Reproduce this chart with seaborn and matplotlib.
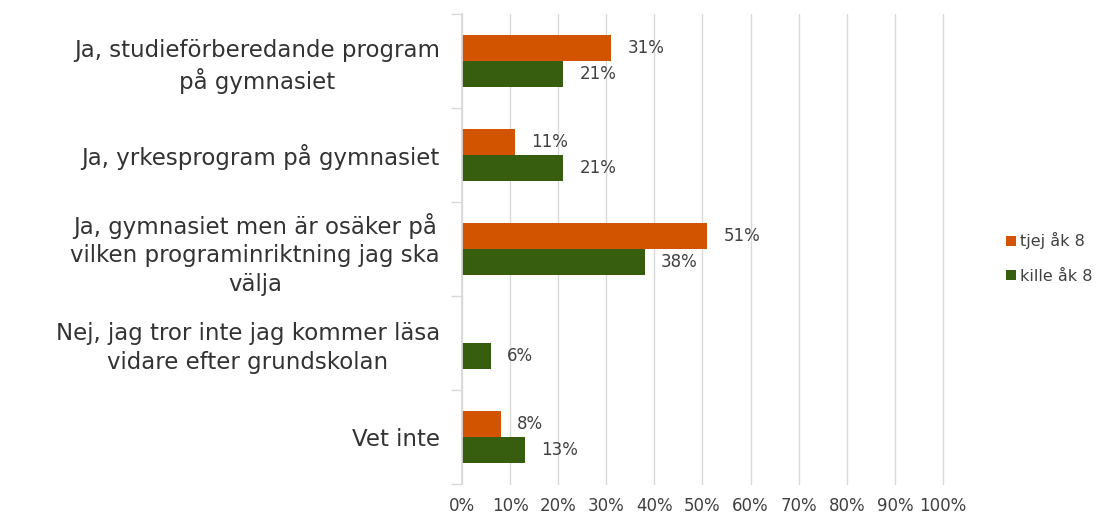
import numpy as np
import pandas as pd
import matplotlib
matplotlib.use("Agg")
import matplotlib.pyplot as plt
from matplotlib.patches import Patch
import seaborn as sns

categories = [
    "Ja, studieförberedande program\npå gymnasiet",
    "Ja, yrkesprogram på gymnasiet",
    "Ja, gymnasiet men är osäker på\nvilken programinriktning jag ska\nvälja",
    "Nej, jag tror inte jag kommer läsa\nvidare efter grundskolan",
    "Vet inte",
]
series_names = ["tjej åk 8", "kille åk 8"]
tjej_values = [31, 11, 51, np.nan, 8]
kille_values = [21, 21, 38, 6, 13]
x_ticks = [0, 10, 20, 30, 40, 50, 60, 70, 80, 90, 100]
x_tick_labels = [f"{v}%" for v in x_ticks]
colors = ["#D35400", "#375E0F"]

df = pd.DataFrame({
    "kategori": categories * 2,
    "grupp": [series_names[0]] * len(categories) + [series_names[1]] * len(categories),
    "andel": tjej_values + kille_values,
})

sns.set_theme(style="white")
plt.rcParams["font.family"] = ["DejaVu Sans"]

fig = plt.figure(figsize=(11.08, 5.16), dpi=100)
ax = fig.add_axes([0.417, 0.062, 0.434, 0.911])

sns.barplot(
    data=df.dropna(), y="kategori", x="andel", hue="grupp",
    order=categories, hue_order=series_names, palette=colors,
    orient="h", width=0.56, saturation=1, linewidth=0, ax=ax, legend=False,
)

# value labels to the right of each bar
for container in ax.containers:
    for bar in container:
        w = bar.get_width()
        if np.isnan(w) or w == 0:
            continue
        ax.text(w + 3.4, bar.get_y() + bar.get_height() / 2, f"{w:.0f}%",
                va="center", ha="left", fontsize=12, color="#404040")

ax.set_xlim(0, 100)
ax.set_ylim(len(categories) - 0.5, -0.5)
ax.set_xticks(x_ticks)
ax.set_xticklabels(x_tick_labels, fontsize=12, color="#404040")
ax.set_xlabel("")
ax.set_ylabel("")
ax.tick_params(axis="y", labelsize=16.5, labelcolor="#333333", length=0, pad=16)
ax.tick_params(axis="x", length=0, pad=9)
for lbl in ax.get_yticklabels():
    lbl.set_multialignment("center")
    lbl.set_linespacing(1.3)

# category boundary ticks on the left
ax.set_yticks(np.arange(-0.5, len(categories), 1.0), minor=True)
ax.tick_params(axis="y", which="minor", length=8, width=1, color="#D9D9D9", left=True)

ax.grid(axis="x", color="#D9D9D9", linewidth=1)
for gl in ax.get_xgridlines():
    gl.set_clip_on(False)
ax.set_axisbelow(True)
for side in ["top", "right", "bottom"]:
    ax.spines[side].set_visible(False)
ax.spines["left"].set_color("#D9D9D9")

handles = [Patch(facecolor=c, edgecolor="none") for c in colors]
fig.legend(handles, series_names, loc="center left", bbox_to_anchor=(0.895, 0.5),
           frameon=False, fontsize=11.5, handlelength=0.6, handleheight=0.6,
           handletextpad=0.3, labelspacing=1.2, labelcolor="#404040")

fig.savefig("out.png", dpi=100)
